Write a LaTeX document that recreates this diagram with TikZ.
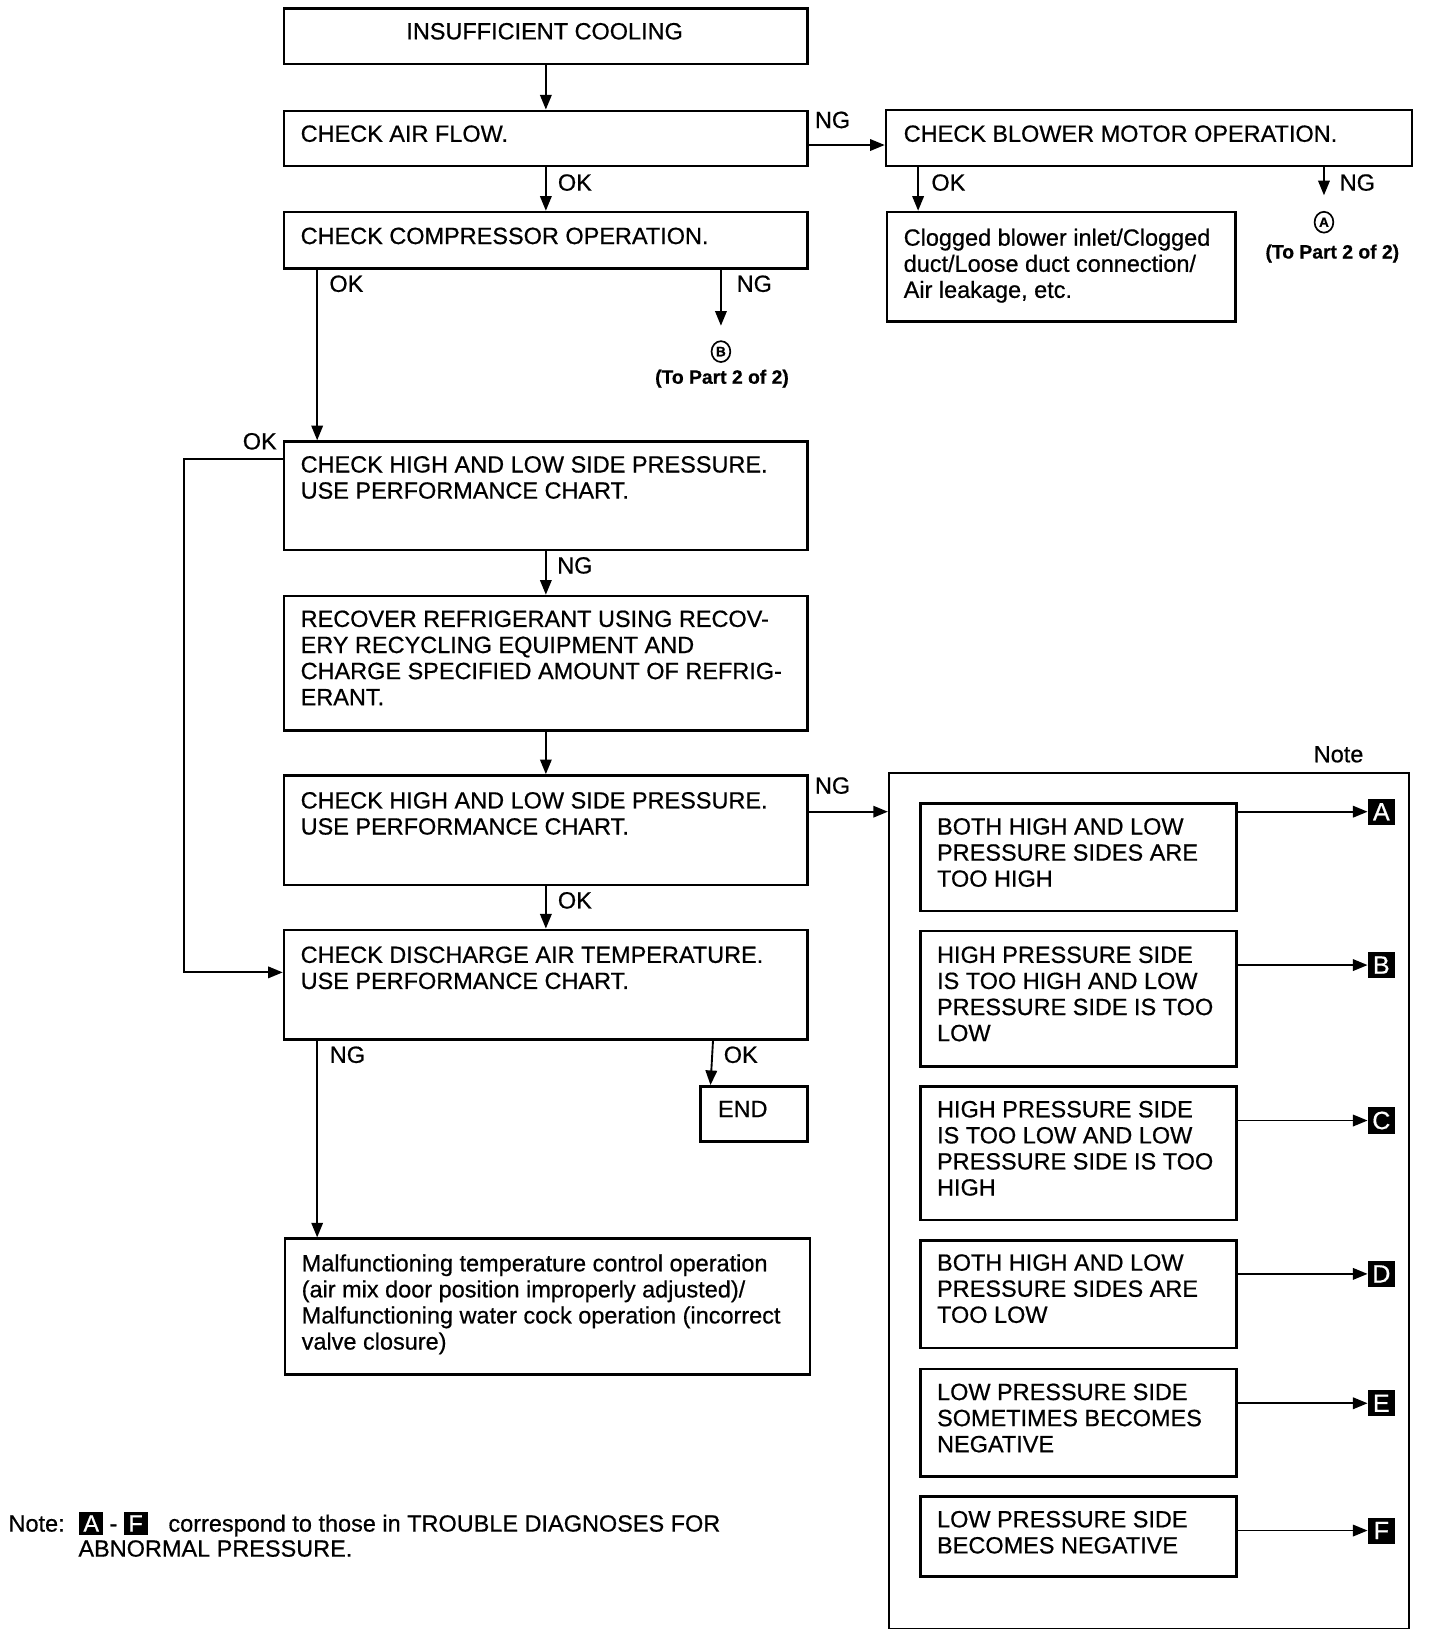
\documentclass[tikz,border=0pt]{standalone}
\usepackage{fontspec}
\setmainfont{Liberation Sans}[FakeBold=0.6]
\usetikzlibrary{arrows.meta,shapes.geometric}
\newcommand\fs{\fontsize{22.5}{25}\selectfont}
\newcommand\isq[1]{{\setlength\fboxsep{3pt}\colorbox{black}{\textcolor{white}{\makebox[17pt]{#1}}}}}
\tikzset{
  box/.style={draw, line width=2.4pt, rectangle, inner sep=0pt, anchor=north west},
  txt/.style={inner sep=0pt, anchor=north west, align=left, font=\fs},
  lab/.style={inner sep=0pt, font=\fs},
  arr/.style={line width=1.8pt, -{Triangle[length=14pt,width=11pt]}},
  sq/.style={fill=black, text=white, inner sep=0pt, minimum width=26pt, minimum height=25pt, font=\fontsize{24}{24}\selectfont},
  circ/.style={draw, ellipse, line width=1.6pt, inner sep=0pt, minimum width=18pt, minimum height=20pt, font=\fontsize{13}{13}\selectfont\bfseries},
  topart/.style={inner sep=0pt, font=\fontsize{18.5}{20}\selectfont\bfseries},
}
\begin{document}
\begin{tikzpicture}[x=1pt,y=-1pt]
\useasboundingbox[fill=white] (0,0) rectangle (1380,1570);

% main column boxes
\node[box, minimum width=502pt, minimum height=53pt] (b1) at (271,7) {};
\node[lab] (t1) at (522,30) {INSUFFICIENT COOLING};
\node[box, minimum width=502pt, minimum height=53pt] (b2) at (271,105) {};
\node[txt] (t2) at (288,120) {CHECK AIR FLOW.};
\node[box, minimum width=504pt, minimum height=54pt] (b3) at (848,104) {};
\node[txt] (t3) at (866,120) {CHECK BLOWER MOTOR OPERATION.};
\node[box, minimum width=502pt, minimum height=54pt] (b4) at (271,202) {};
\node[txt] (t4) at (288,218) {CHECK COMPRESSOR OPERATION.};
\node[box, minimum width=334pt, minimum height=105pt] (b5) at (849,202) {};
\node[txt] (t5) at (866,219) {Clogged blower inlet/Clogged\\duct/Loose duct connection/\\Air leakage, etc.};
\node[box, minimum width=502pt, minimum height=104pt] (b6) at (271,422) {};
\node[txt] (t6) at (288,437) {CHECK HIGH AND LOW SIDE PRESSURE.\\USE PERFORMANCE CHART.};
\node[box, minimum width=502pt, minimum height=129pt] (b7) at (271,570) {};
\node[txt] (t7) at (288,585) {RECOVER REFRIGERANT USING RECOV-\\ERY RECYCLING EQUIPMENT AND\\CHARGE SPECIFIED AMOUNT OF REFRIG-\\ERANT.};
\node[box, minimum width=502pt, minimum height=105pt] (b8) at (271,742) {};
\node[txt] (t8) at (288,759) {CHECK HIGH AND LOW SIDE PRESSURE.\\USE PERFORMANCE CHART.};
\node[box, minimum width=502pt, minimum height=105pt] (b9) at (271,890) {};
\node[txt] (t9) at (288,907) {CHECK DISCHARGE AIR TEMPERATURE.\\USE PERFORMANCE CHART.};
\node[box, minimum width=103pt, minimum height=53pt] (end) at (670,1040) {};
\node[txt] (tend) at (688,1055) {END};
\node[box, minimum width=503pt, minimum height=130pt] (b11) at (272,1186) {};
\node[txt] (t11) at (289,1202) {Malfunctioning temperature control operation\\(air mix door position improperly adjusted)/\\Malfunctioning water cock operation (incorrect\\valve closure)};

% off-page references
\node[circ] (cA) at (1269,213) {A};
\node[topart] (tA) at (1277,243) {(To Part 2 of 2)};
\node[circ] (cB) at (691,337) {B};
\node[topart] (tB) at (692,363) {(To Part 2 of 2)};

% Note panel
\node[draw, line width=1.8pt, rectangle, inner sep=0pt, anchor=north west, minimum width=499pt, minimum height=820pt] (note) at (851,740) {};
\node[lab] (notelab) at (1283,723) {Note};
\node[box, minimum width=303pt, minimum height=103pt] (nA) at (881,769) {};
\node[txt] (tnA) at (898,784) {BOTH HIGH AND LOW\\PRESSURE SIDES ARE\\TOO HIGH};
\node[box, minimum width=303pt, minimum height=130pt] (nB) at (881,891) {};
\node[txt] (tnB) at (898,907) {HIGH PRESSURE SIDE\\IS TOO HIGH AND LOW\\PRESSURE SIDE IS TOO\\LOW};
\node[box, minimum width=303pt, minimum height=128pt] (nC) at (881,1040) {};
\node[txt] (tnC) at (898,1055) {HIGH PRESSURE SIDE\\IS TOO LOW AND LOW\\PRESSURE SIDE IS TOO\\HIGH};
\node[box, minimum width=303pt, minimum height=103pt] (nD) at (881,1188) {};
\node[txt] (tnD) at (898,1202) {BOTH HIGH AND LOW\\PRESSURE SIDES ARE\\TOO LOW};
\node[box, minimum width=303pt, minimum height=103pt] (nE) at (881,1311) {};
\node[txt] (tnE) at (898,1326) {LOW PRESSURE SIDE\\SOMETIMES BECOMES\\NEGATIVE};
\node[box, minimum width=303pt, minimum height=77pt] (nF) at (881,1433) {};
\node[txt] (tnF) at (898,1448) {LOW PRESSURE SIDE\\BECOMES NEGATIVE};

\node[sq] (sqA) at (1324,778) {A};
\node[sq] (sqB) at (1324,925) {B};
\node[sq] (sqC) at (1324,1074) {C};
\node[sq] (sqD) at (1324,1221) {D};
\node[sq] (sqE) at (1324,1345) {E};
\node[sq] (sqF) at (1324,1467) {F};

% connectors
\draw[arr] (b1.south) -- (b2.north);
\draw[arr] ([yshift=-34pt]b2.north east) -- ([yshift=-35pt]b3.north west);
\draw[arr] (b2.south) -- (b4.north);
\draw[arr] ([xshift=32pt]b3.south west) -- ([xshift=31pt]b5.north west);
\draw[arr, shorten >=15pt] (b3.south -| cA.north) -- (cA.north);
\draw[arr, shorten >=14pt] (b4.south -| cB.north) -- (cB.north);
\draw[arr] ([xshift=33pt]b4.south west) -- ([xshift=33pt]b6.north west);
\draw[arr] ([yshift=-18pt]b6.north west) -- (176,440) |- ([yshift=-42pt]b9.north west);
\draw[arr] (b6.south) -- (b7.north);
\draw[arr] (b7.south) -- (b8.north);
\draw[arr] ([yshift=-36pt]b8.north east) -- ([yshift=-38pt]note.north west);
\draw[arr] (b8.south) -- (b9.north);
\draw[arr] ([xshift=-92pt]b9.south east) -- ([xshift=11pt]end.north west);
\draw[arr] ([xshift=33pt]b9.south west) -- ([xshift=32pt]b11.north west);

\draw[arr] ([yshift=-9pt]nA.north east) -- (sqA);
\draw[arr] ([yshift=-34pt]nB.north east) -- (sqB);
\draw[arr] ([yshift=-34pt]nC.north east) -- (sqC);
\draw[arr] ([yshift=-33pt]nD.north east) -- (sqD);
\draw[arr] ([yshift=-34pt]nE.north east) -- (sqE);
\draw[arr] ([yshift=-34pt]nF.north east) -- (sqF);

% connector labels
\node[lab] (l1) at (798,115) {NG};
\node[lab] (l2) at (551,175) {OK};
\node[lab] (l3) at (909,175) {OK};
\node[lab] (l4) at (1301,175) {NG};
\node[lab] (l5) at (723,272) {NG};
\node[lab] (l6) at (332,272) {OK};
\node[lab] (l7) at (249,423) {OK};
\node[lab] (l8) at (551,542) {NG};
\node[lab] (l9) at (798,753) {NG};
\node[lab] (l10) at (551,863) {OK};
\node[lab] (l11) at (333,1011) {NG};
\node[lab] (l12) at (710,1011) {OK};

% bottom note
\node[inner sep=0pt, anchor=base west, font=\fs] (fn1) at (8,1468) {Note:\hspace{14pt}\isq{A}\hspace{6pt}-\hspace{6pt}\isq{F}\hspace{20pt}correspond to those in TROUBLE DIAGNOSES FOR};
\node[inner sep=0pt, anchor=base west, font=\fs] (fn2) at (75,1492) {ABNORMAL PRESSURE.};
\end{tikzpicture}
\end{document}
